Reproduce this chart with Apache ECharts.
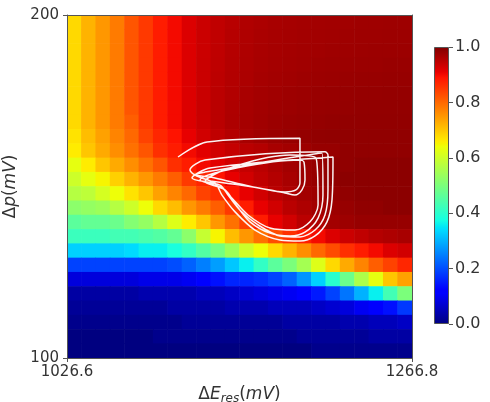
<!DOCTYPE html>
<html>
<head>
<meta charset="utf-8">
<script src="https://cdn.jsdelivr.net/npm/echarts@6/dist/echarts.min.js"></script>
<style>
  html, body { margin: 0; padding: 0; background: #fff; }
  #main { width: 490px; height: 402px; }
</style>
</head>
<body>
<div id="main"></div>
<script>
// axis ranges and ticks
const xRange = [1026.6, 1266.8];
const yRange = [100, 200];
const xTicks = [1026.6, 1266.8];
const yTicks = [100, 200];
const cbRange = [0, 1];

// heatmap values (24 x 24), first line = top row, left -> right
const zRows = [
  [0.68,0.72,0.75,0.78,0.82,0.85,0.88,0.90,0.92,0.935,0.945,0.952,0.958,0.962,0.965,0.967,0.969,0.970,0.971,0.972,0.973,0.973,0.974,0.974],
  [0.68,0.72,0.75,0.78,0.82,0.85,0.88,0.90,0.92,0.935,0.945,0.953,0.959,0.963,0.966,0.968,0.970,0.971,0.972,0.973,0.974,0.974,0.975,0.975],
  [0.68,0.72,0.75,0.78,0.82,0.85,0.88,0.90,0.92,0.935,0.946,0.954,0.960,0.964,0.967,0.969,0.971,0.972,0.973,0.974,0.975,0.976,0.976,0.976],
  [0.68,0.72,0.75,0.78,0.82,0.85,0.88,0.90,0.92,0.936,0.947,0.955,0.961,0.965,0.968,0.970,0.972,0.974,0.975,0.976,0.977,0.977,0.978,0.978],
  [0.68,0.72,0.75,0.78,0.82,0.85,0.88,0.90,0.92,0.936,0.948,0.956,0.962,0.967,0.970,0.972,0.974,0.976,0.977,0.978,0.979,0.979,0.980,0.980],
  [0.68,0.72,0.75,0.78,0.82,0.85,0.88,0.90,0.92,0.937,0.949,0.957,0.964,0.969,0.972,0.974,0.976,0.978,0.979,0.980,0.981,0.981,0.982,0.982],
  [0.68,0.72,0.75,0.78,0.82,0.85,0.88,0.90,0.92,0.937,0.950,0.959,0.966,0.971,0.974,0.976,0.978,0.980,0.981,0.982,0.983,0.983,0.983,0.983],
  [0.68,0.72,0.75,0.78,0.81,0.85,0.88,0.90,0.92,0.936,0.950,0.960,0.967,0.972,0.976,0.978,0.980,0.982,0.983,0.984,0.984,0.984,0.984,0.984],
  [0.67,0.71,0.74,0.77,0.80,0.84,0.87,0.89,0.91,0.930,0.945,0.955,0.965,0.972,0.977,0.980,0.982,0.984,0.985,0.985,0.985,0.985,0.985,0.985],
  [0.66,0.70,0.73,0.76,0.79,0.82,0.86,0.88,0.90,0.915,0.930,0.940,0.950,0.955,0.965,0.970,0.975,0.980,0.980,0.985,0.985,0.985,0.985,0.985],
  [0.63,0.66,0.70,0.73,0.76,0.79,0.82,0.86,0.88,0.900,0.915,0.930,0.940,0.950,0.960,0.970,0.975,0.980,0.985,0.985,0.990,0.990,0.990,0.990],
  [0.60,0.63,0.65,0.69,0.72,0.75,0.78,0.81,0.85,0.870,0.890,0.910,0.930,0.945,0.955,0.965,0.975,0.980,0.985,0.990,0.990,0.990,0.990,0.990],
  [0.57,0.58,0.61,0.64,0.67,0.70,0.74,0.77,0.80,0.840,0.860,0.890,0.910,0.930,0.950,0.960,0.970,0.975,0.980,0.985,0.990,0.990,0.990,0.990],
  [0.52,0.53,0.54,0.57,0.60,0.64,0.68,0.71,0.75,0.780,0.810,0.850,0.880,0.910,0.930,0.950,0.960,0.970,0.975,0.980,0.985,0.985,0.990,0.990],
  [0.46,0.47,0.47,0.48,0.51,0.53,0.57,0.62,0.66,0.700,0.750,0.790,0.840,0.880,0.910,0.930,0.950,0.960,0.970,0.975,0.980,0.980,0.980,0.980],
  [0.42,0.42,0.42,0.43,0.43,0.44,0.45,0.47,0.52,0.590,0.650,0.710,0.750,0.790,0.830,0.860,0.880,0.900,0.920,0.935,0.945,0.955,0.960,0.965],
  [0.33,0.33,0.33,0.33,0.34,0.36,0.36,0.38,0.41,0.450,0.490,0.540,0.600,0.640,0.680,0.720,0.760,0.800,0.830,0.860,0.880,0.900,0.920,0.930],
  [0.19,0.19,0.19,0.19,0.19,0.19,0.19,0.20,0.22,0.250,0.280,0.320,0.360,0.410,0.460,0.500,0.550,0.620,0.680,0.730,0.770,0.810,0.840,0.870],
  [0.08,0.08,0.08,0.08,0.08,0.09,0.09,0.09,0.10,0.120,0.140,0.160,0.160,0.170,0.190,0.220,0.270,0.330,0.400,0.480,0.560,0.630,0.700,0.740],
  [0.03,0.03,0.03,0.03,0.03,0.04,0.04,0.04,0.04,0.050,0.050,0.060,0.070,0.080,0.090,0.100,0.120,0.150,0.190,0.240,0.300,0.360,0.430,0.500],
  [0.02,0.02,0.02,0.02,0.02,0.02,0.02,0.03,0.03,0.030,0.030,0.040,0.040,0.040,0.050,0.050,0.050,0.060,0.070,0.080,0.100,0.120,0.140,0.180],
  [0.01,0.01,0.01,0.01,0.01,0.01,0.01,0.01,0.02,0.020,0.020,0.020,0.020,0.020,0.020,0.030,0.030,0.030,0.030,0.040,0.040,0.050,0.050,0.060],
  [0.00,0.00,0.00,0.00,0.00,0.00,0.01,0.01,0.01,0.010,0.010,0.010,0.010,0.010,0.010,0.010,0.020,0.020,0.020,0.020,0.020,0.030,0.030,0.030],
  [0.00,0.00,0.00,0.00,0.00,0.00,0.00,0.00,0.00,0.000,0.000,0.000,0.000,0.000,0.000,0.000,0.000,0.010,0.010,0.010,0.010,0.010,0.010,0.010]
];

// white trajectory as [ΔE_res, Δp] points
const loop1 = [[1103.9,158.6],[1124.1,163.0],[1188.8,164.1],[1188.8,151.0],[1186.0,149.0],[1178.4,148.4],[1154.0,150.1],[1129.6,152.5],[1115.7,153.4],[1112.2,154.8]];
const loop2 = [[1122.7,157.7],[1206.2,160.1],[1208.3,159.2],[1208.3,149.0],[1206.2,141.7],[1199.3,137.3],[1188.8,135.3],[1174.9,135.6],[1159.6,138.8],[1147.1,143.1],[1138.7,147.5],[1133.1,150.4],[1113.6,152.5]];
const loop3 = [[1126.2,155.4],[1211.8,158.6],[1211.1,146.1],[1207.6,139.7],[1199.3,135.6],[1188.8,134.1],[1174.9,134.4],[1157.5,137.3],[1143.6,142.6],[1134.5,147.5],[1129.6,151.0],[1115.7,153.4]];
const loop4 = [[1181.9,159.2],[1200.0,158.3],[1201.4,144.6],[1195.8,139.7],[1185.3,137.3],[1167.9,137.9],[1152.6,141.7],[1141.5,146.6],[1134.5,149.6],[1119.2,151.9]];
const loop5 = [[1188.8,157.7],[1191.6,157.1],[1192.3,151.9],[1190.2,149.0],[1185.3,147.5],[1178.4,148.1],[1167.9,149.0],[1147.1,150.4],[1126.2,151.6]];
const loop6 = [[1122.7,154.2],[1204.1,159.8],[1204.8,147.5],[1201.4,140.8],[1192.3,136.7],[1181.9,135.6],[1167.9,136.4],[1154.0,139.7],[1144.3,144.6],[1136.6,149.0],[1122.7,151.3]];

// jet colormap stops
const jetStops = [
  [0, '#000080'], [0.11, '#0000ff'], [0.125, '#0000ff'], [0.34, '#00dbff'],
  [0.35, '#00e6f7'], [0.375, '#15ffe2'], [0.64, '#eeff08'], [0.65, '#f7f500'],
  [0.66, '#ffec00'], [0.89, '#ff1300'], [0.91, '#e80000'], [1, '#800000']
];

function hexRgb(h) {
  return [parseInt(h.slice(1, 3), 16), parseInt(h.slice(3, 5), 16), parseInt(h.slice(5, 7), 16)];
}
function jetAt(t) {
  for (let i = 1; i < jetStops.length; i++) {
    if (t <= jetStops[i][0] + 1e-9) {
      const a = jetStops[i - 1], b = jetStops[i];
      const f = b[0] === a[0] ? 0 : (t - a[0]) / (b[0] - a[0]);
      const ca = hexRgb(a[1]), cb = hexRgb(b[1]);
      return 'rgb(' + ca.map((c, k) => Math.round(c + (cb[k] - c) * f)).join(',') + ')';
    }
  }
  return jetStops[jetStops.length - 1][1];
}
const jetList = [];
for (let i = 0; i <= 200; i++) jetList.push(jetAt(i / 200));

const nRows = zRows.length;
const heatData = [];
zRows.forEach((row, r) => {
  row.forEach((v, c) => heatData.push([c, nRows - 1 - r, v]));
});
const colCats = zRows[0].map((_, i) => i);
const rowCats = zRows.map((_, i) => i);
const trajectory = [].concat(loop1, loop2, loop3, loop6, loop4, loop5);

const font = 'DejaVu Sans';
const txt = '#333';
const frame = '#555';

let chart = echarts.init(document.getElementById('main'));

let option = {
  animation: false,
  grid: [
    { left: 67, top: 15, width: 345, height: 343, outerBoundsMode: 'none', containLabel: false },
    { left: 434, top: 47, width: 15, height: 277, outerBoundsMode: 'none', containLabel: false }
  ],
  xAxis: [
    {
      type: 'category', gridIndex: 0, data: colCats, position: 'top', z: 5,
      axisLine: { show: true, lineStyle: { color: frame, width: 1 } },
      axisTick: { show: false }, axisLabel: { show: false }, splitLine: { show: false }
    },
    {
      type: 'value', gridIndex: 0, min: xRange[0], max: xRange[1], position: 'bottom', z: 5,
      axisLine: { show: true, onZero: false, lineStyle: { color: frame, width: 1 } },
      axisTick: { show: true, length: 4, customValues: xTicks, lineStyle: { color: frame } },
      axisLabel: { customValues: xTicks, color: txt, fontSize: 15, fontFamily: font, margin: 7,
        formatter: v => v.toFixed(1) },
      splitLine: { show: false },
      name: '{n|Δ}{i|E}{s|res}{n|(}{i|mV}{n|)}',
      nameLocation: 'middle', nameGap: 26,
      nameTextStyle: {
        color: txt, verticalAlign: 'top',
        rich: {
          n: { fontSize: 17, fontFamily: font, color: txt },
          i: { fontSize: 17, fontFamily: font, fontStyle: 'italic', color: txt },
          s: { fontSize: 12, fontFamily: font, fontStyle: 'italic', color: txt, padding: [9, 0, 0, 0] }
        }
      }
    },
    { type: 'category', gridIndex: 1, data: ['cb'], show: false }
  ],
  yAxis: [
    {
      type: 'category', gridIndex: 0, data: rowCats, position: 'right', z: 5,
      axisLine: { show: true, lineStyle: { color: frame, width: 1 } },
      axisTick: { show: false }, axisLabel: { show: false }, splitLine: { show: false }
    },
    {
      type: 'value', gridIndex: 0, min: yRange[0], max: yRange[1], position: 'left', z: 5,
      axisLine: { show: true, onZero: false, lineStyle: { color: frame, width: 1 } },
      axisTick: { show: true, length: 4, customValues: yTicks, lineStyle: { color: frame } },
      axisLabel: { customValues: yTicks, color: txt, fontSize: 15, fontFamily: font, margin: 8 },
      splitLine: { show: false },
      name: '{n|Δ}{i|p}{n|(}{i|mV}{n|)}',
      nameLocation: 'middle', nameGap: 44,
      nameTextStyle: {
        color: txt,
        rich: {
          n: { fontSize: 17, fontFamily: font, color: txt },
          i: { fontSize: 17, fontFamily: font, fontStyle: 'italic', color: txt }
        }
      }
    },
    {
      type: 'value', gridIndex: 1, min: cbRange[0], max: cbRange[1], interval: 0.2, position: 'right',
      axisLine: { show: false },
      axisTick: { show: true, length: 4, lineStyle: { color: frame } },
      axisLabel: { color: txt, fontSize: 16, fontFamily: font, margin: 6, formatter: v => v.toFixed(1) },
      splitLine: { show: false }
    }
  ],
  visualMap: {
    show: false, type: 'continuous', min: cbRange[0], max: cbRange[1], seriesIndex: 0, dimension: 2,
    inRange: { color: jetList }
  },
  series: [
    {
      // cells drawn with a hair of overlap so no seams show between them
      type: 'custom', xAxisIndex: 0, yAxisIndex: 0, data: heatData,
      encode: { x: 0, y: 1 },
      renderItem: function (params, api) {
        const p = api.coord([api.value(0), api.value(1)]);
        const s = api.size([1, 1]);
        return {
          type: 'rect',
          shape: { x: p[0] - s[0] / 2 - 0.3, y: p[1] - s[1] / 2 - 0.3, width: s[0] + 0.6, height: s[1] + 0.6 },
          style: { fill: api.visual('color') }
        };
      },
      clip: true,
      emphasis: { disabled: true }
    },
    {
      type: 'line', xAxisIndex: 1, yAxisIndex: 1, data: trajectory, z: 4,
      showSymbol: false, smooth: 0.3,
      lineStyle: { color: '#fff', width: 1.5, opacity: 0.95 }
    },
    {
      type: 'bar', xAxisIndex: 2, yAxisIndex: 2, data: [cbRange[1]], barWidth: '100%',
      itemStyle: {
        color: new echarts.graphic.LinearGradient(0, 1, 0, 0,
          jetStops.map(s => ({ offset: s[0], color: s[1] }))),
        borderColor: frame, borderWidth: 1
      },
      emphasis: { disabled: true }
    }
  ]
};

chart.setOption(option);
</script>
</body>
</html>
